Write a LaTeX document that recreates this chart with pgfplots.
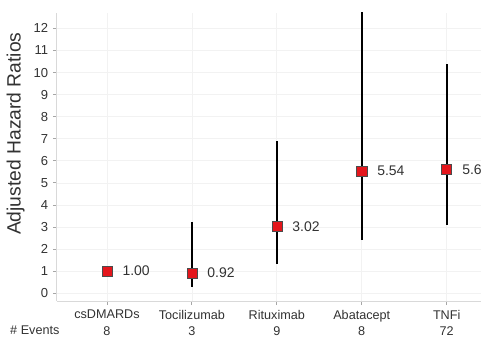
\documentclass[border=0pt]{standalone}
\usepackage{fontspec}
\setmainfont{Liberation Sans}
\usepackage{pgfplots}
\pgfplotsset{compat=1.18}
\usepackage{pgfplotstable}
\definecolor{ptred}{RGB}{228,22,28}
\definecolor{txt}{RGB}{50,50,50}
\pgfplotstableread{
x y lo hi lab
0 1.00 1.00 1.00 1.00
1 0.92 0.26 3.23 0.92
2 3.02 1.31 6.92 3.02
3 5.54 2.41 14.00 5.54
4 5.60 3.09 10.40 5.6
}\datatable
\begin{document}
\begin{tikzpicture}
\begin{axis}[
  scale only axis, width=318.75pt, height=216.75pt,
  xmin=-0.59, xmax=4.4, ymin=-0.36, ymax=12.7,
  axis lines=left, axis line style={-, draw=black!15, line width=0.9pt},
  /pgf/number format/assume math mode=true,
  xtick={0,1,2,3,4},
  xticklabels={csDMARDs\\8, Tocilizumab\\3, Rituximab\\9, Abatacept\\8, TNFi\\72},
  ytick={0,1,...,12},
  tick align=outside, major tick length=3pt,
  tick style={black!35, line width=0.6pt},
  grid=major, grid style={black!5, line width=0.5pt},
  xticklabel style={align=center, font=\fontsize{9.5}{12.75}\selectfont, text=txt},
  yticklabel style={font=\fontsize{9.8}{11}\selectfont, text=txt},
  ylabel={Adjusted Hazard Ratios},
  ylabel style={font=\fontsize{14.5}{16}\selectfont, text=txt, at={(ticklabel cs:0.581)}},
  clip=true,
]
\addplot[draw=none, mark=none, forget plot,
  error bars/.cd, y dir=both, y explicit, error mark=none,
  error bar style={line width=1.6pt, black}]
  table[x=x, y=y, y error plus expr=\thisrow{hi}-\thisrow{y}, y error minus expr=\thisrow{y}-\thisrow{lo}] {\datatable};
\addplot[only marks, mark=square*, mark size=3.8pt,
  mark options={fill=ptred, draw=black!70, line width=0.4pt},
  point meta=explicit symbolic,
  nodes near coords,
  nodes near coords style={anchor=west, inner sep=0pt, xshift=11.5pt, font=\fontsize{10.5}{12}\selectfont, text=txt}]
  table[x=x, y=y, meta=lab] {\datatable};
\end{axis}
\node[anchor=base west, inner sep=0pt, font=\fontsize{9.5}{11}\selectfont, text=txt]
  at ([shift={(-35.25pt,-25.2pt)}]current axis.south west) {\# Events};
\pgfresetboundingbox
\path ([shift={(-42.75pt,-27.75pt)}]current axis.south west) rectangle ([shift={(1pt,9.75pt)}]current axis.north east);
\end{tikzpicture}
\end{document}
